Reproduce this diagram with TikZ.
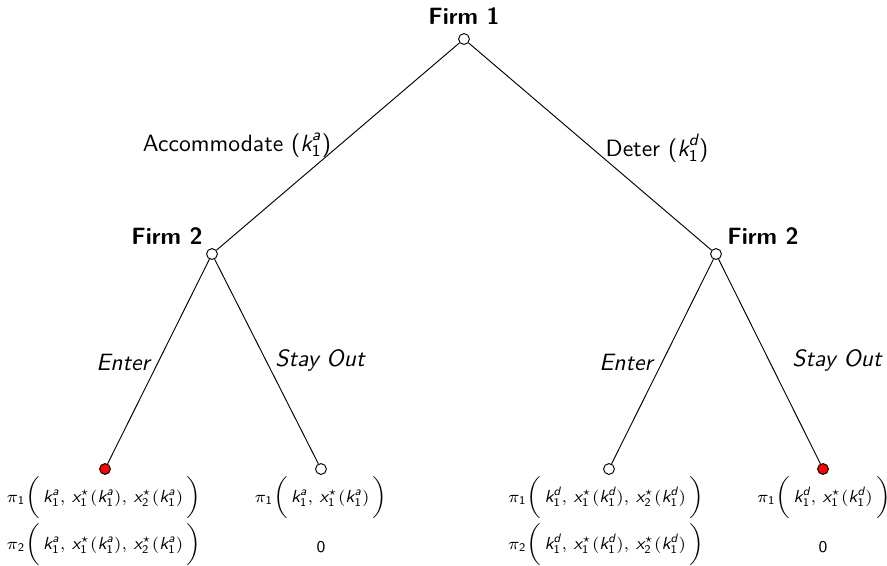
\documentclass[tikz,border=0pt]{standalone}
\usepackage{amsmath}
\renewcommand{\familydefault}{\sfdefault}
\newcommand{\kk}[1]{\textit{k}_{\mathsf{1}}^{\textit{#1}}}
\newcommand{\xs}[1]{\textit{x}_{\mathsf{#1}}^{\star}}
\newcommand{\pay}[1]{\pi_{\mathsf{#1}}}
\newcommand{\cm}{,\,}
\begin{document}
\begin{tikzpicture}[x=0.4237pt,y=-0.4237pt,
  dec/.style={circle,draw,fill=white,inner sep=0pt,minimum size=4.6pt},
  eqm/.style={dec,fill=red},
  who/.style={font=\bfseries},
  act/.style={font=\itshape},
  pf/.style={font=\fontsize{7.4}{9}\selectfont}]
\useasboundingbox (0,0) rectangle (887,565);
\node[dec] (r) at (464,39) {};
\node[dec] (a) at (212,254) {};
\node[dec] (d) at (716,254) {};
\node[eqm] (ae) at (105,469) {};
\node[dec] (ao) at (321,469) {};
\node[dec] (de) at (609,469) {};
\node[eqm] (do) at (823,469) {};
\draw (r) -- (a);
\draw (r) -- (d);
\draw (a) -- (ae);
\draw (a) -- (ao);
\draw (d) -- (de);
\draw (d) -- (do);
\node[who] (l1) at (464,16) {Firm 1};
\node[who] (l2) at (167,236) {Firm 2};
\node[who] (l3) at (763,236) {Firm 2};
\node (ea) at (237,145) {Accommodate ($\kk a$)};
\node (ed) at (657,148) {Deter ($\kk d$)};
\node[act] (e1) at (123,362) {Enter};
\node[act] (s1) at (320,360) {Stay Out};
\node[act] (e2) at (626,362) {Enter};
\node[act] (s2) at (837,360) {Stay Out};
\node[pf] (p1) at (104,498) {$\pay1\bigg(\,\kk a\cm \xs1(\kk a)\cm \xs2(\kk a)\,\bigg)$};
\node[pf] (p2) at (104,545) {$\pay2\bigg(\,\kk a\cm \xs1(\kk a)\cm \xs2(\kk a)\,\bigg)$};
\node[pf] (p3) at (321,498) {$\pay1\bigg(\,\kk a\cm \xs1(\kk a)\,\bigg)$};
\node[pf] (p4) at (321,547) {$\mathsf{0}$};
\node[pf] (p5) at (606,498) {$\pay1\bigg(\,\kk d\cm \xs1(\kk d)\cm \xs2(\kk d)\,\bigg)$};
\node[pf] (p6) at (606,545) {$\pay2\bigg(\,\kk d\cm \xs1(\kk d)\cm \xs2(\kk d)\,\bigg)$};
\node[pf] (p7) at (824,498) {$\pay1\bigg(\,\kk d\cm \xs1(\kk d)\,\bigg)$};
\node[pf] (p8) at (823,547) {$\mathsf{0}$};
\end{tikzpicture}
\end{document}
